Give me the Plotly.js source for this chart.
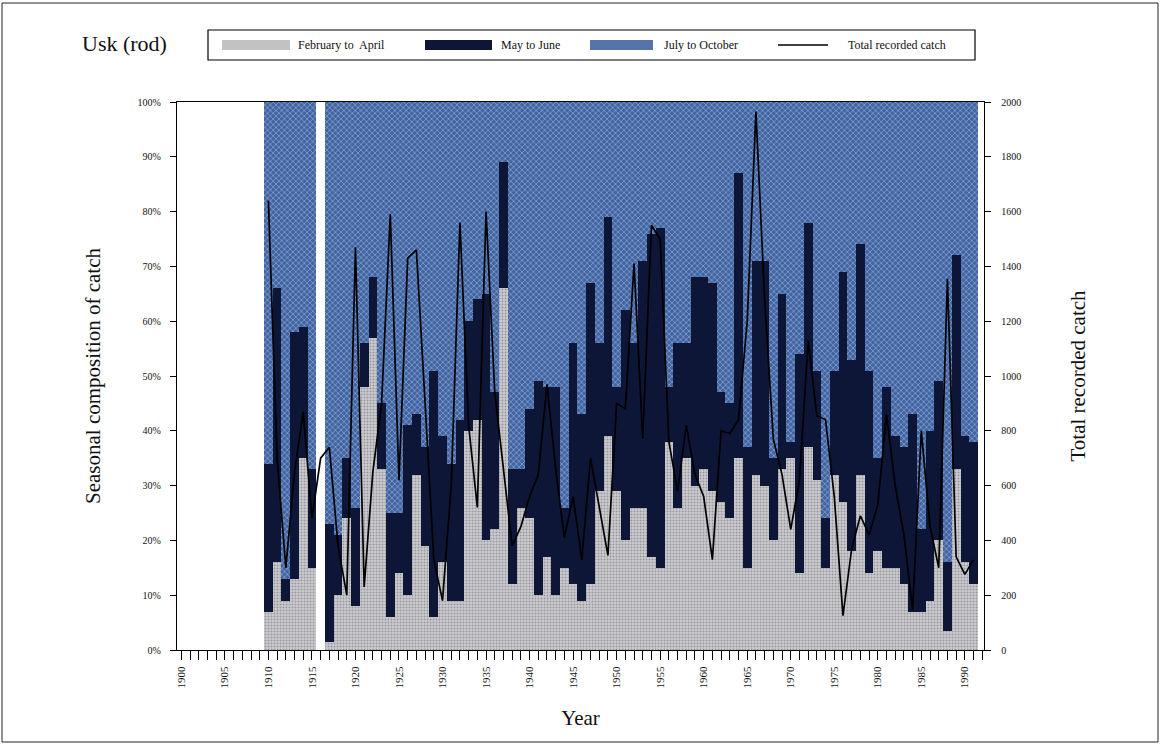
<!DOCTYPE html>
<html>
<head>
<meta charset="utf-8">
<script src="https://cdn.plot.ly/plotly-3.0.1.min.js"></script>
<style>
  html, body { margin: 0; padding: 0; background: #ffffff; }
  #chart { width: 1161px; height: 745px; }
</style>
</head>
<body>
<div id="chart"></div>
<script>
// Years with data (1910-1991); 1916 has no seasonal breakdown
const years = [];
for (let y = 1910; y <= 1991; y++) years.push(y);

// Seasonal composition of catch (% of annual rod catch)
const febApr = [7,16,9,13,35,15,null,1.5,10,24,8,48,57,33,6,14,10,32,19,6,
  16,9,9,40,42,20,22,66,12,26,24,10,17,10,15,12,9,12,29,39,
  29,20,26,26,17,15,38,26,35,30,33,29,27,24,35,15,32,30,20,33,
  35,14,37,31,15,32,27,18,32,14,18,15,15,12,7,7,9,20,3.5,33,
  16,12];
const mayJun = [27,50,4,45,24,18,null,21.5,11,11,18,8,11,12,19,11,31,11,18,45,
  23,25,33,20,22,45,25,23,21,7,20,39,31,38,11,44,34,55,27,40,
  19,42,30,45,59,62,10,30,21,38,35,38,20,21,52,22,39,41,15,32,
  3,40,41,20,9,19,42,35,42,37,17,33,24,25,36,15,31,29,12.5,39,
  23,26];
const julOct = [66,34,87,42,41,67,null,77,79,65,74,44,32,55,75,75,59,57,63,49,
  61,66,58,40,36,35,53,11,67,67,56,51,52,52,74,44,57,33,44,21,
  52,38,44,29,24,23,52,44,44,32,32,33,53,55,13,63,29,29,65,35,
  62,46,22,49,76,49,31,47,26,49,65,52,61,63,57,78,60,51,84,28,
  61,62];

// Total recorded rod catch (right axis)
const totalCatch = [1640,700,300,650,870,480,700,740,380,200,1470,230,650,900,1590,620,1430,1460,900,330,
  180,600,1560,820,520,1600,940,650,380,450,560,640,970,660,410,560,330,700,520,345,
  900,880,1410,770,1550,1500,760,580,820,640,560,330,800,790,840,1200,1965,1280,770,640,
  440,620,1130,855,840,560,125,370,490,420,530,860,600,420,145,800,450,300,1355,340,
  276,330];

const seriesNames = ['February to  April', 'May to June', 'July to October', 'Total recorded catch'];
const xTickVals = [1900,1905,1910,1915,1920,1925,1930,1935,1940,1945,1950,1955,1960,1965,1970,1975,1980,1985,1990];

const SERIF = '"Liberation Serif", "Times New Roman", serif';
const grayBg = '#cdcdd0', grayFg = '#97979c';
const navy = '#0d1636';
const blueBg = '#4164a0', blueFg = '#a3bce6';

const traces = [
  { type: 'bar', name: seriesNames[0], x: years, y: febApr, width: 1,
    marker: { color: grayBg, line: { width: 0 },
      pattern: { shape: '.', bgcolor: grayBg, fgcolor: grayFg, size: 3, solidity: 0.35 } },
    showlegend: false, hoverinfo: 'x+y' },
  { type: 'bar', name: seriesNames[1], x: years, y: mayJun, width: 1,
    marker: { color: navy, line: { width: 0 } },
    showlegend: false, hoverinfo: 'x+y' },
  { type: 'bar', name: seriesNames[2], x: years, y: julOct, width: 1,
    marker: { color: blueBg, line: { width: 0 },
      pattern: { shape: 'x', bgcolor: blueBg, fgcolor: blueFg, size: 4, solidity: 0.25 } },
    showlegend: false, hoverinfo: 'x+y' },
  { type: 'scatter', mode: 'lines', name: seriesNames[3], x: years, y: totalCatch,
    yaxis: 'y2', line: { color: '#000000', width: 1.7 }, connectgaps: true,
    showlegend: false }
];

// Paper coordinates helpers (plot area: x 177..984, y 102..650 px)
const PL = 177, PR = 984, PT = 102, PB = 650;
const px = v => (v - PL) / (PR - PL);
const py = v => (PB - v) / (PB - PT);

const shapes = [
  // outer frame
  { type: 'rect', xref: 'paper', yref: 'paper', x0: px(2), x1: px(1158), y0: py(742), y1: py(3),
    line: { color: '#222', width: 1 }, fillcolor: 'rgba(0,0,0,0)', layer: 'below' },
  // legend box
  { type: 'rect', xref: 'paper', yref: 'paper', x0: px(208), x1: px(975), y0: py(60), y1: py(30),
    line: { color: '#000', width: 1.2 }, fillcolor: '#ffffff' },
  // legend swatches
  { type: 'rect', xref: 'paper', yref: 'paper', x0: px(222), x1: px(290), y0: py(50), y1: py(40),
    line: { width: 0 }, fillcolor: '#c2c2c5' },
  { type: 'rect', xref: 'paper', yref: 'paper', x0: px(425), x1: px(492), y0: py(50), y1: py(40),
    line: { width: 0 }, fillcolor: navy },
  { type: 'rect', xref: 'paper', yref: 'paper', x0: px(590), x1: px(653), y0: py(50), y1: py(40),
    line: { width: 0 }, fillcolor: '#5474aa' },
  { type: 'line', xref: 'paper', yref: 'paper', x0: px(778), x1: px(828), y0: py(45), y1: py(45),
    line: { color: '#000', width: 1.5 } }
];

const legendFont = { family: SERIF, size: 12, color: '#111' };
const annotations = [
  { xref: 'paper', yref: 'paper', x: px(80), y: py(43), text: 'Usk (rod)', showarrow: false,
    xanchor: 'left', yanchor: 'middle', font: { family: SERIF, size: 22, color: '#111' } },
  { xref: 'paper', yref: 'paper', x: px(296), y: py(45), text: seriesNames[0], showarrow: false,
    xanchor: 'left', yanchor: 'middle', font: legendFont },
  { xref: 'paper', yref: 'paper', x: px(499), y: py(45), text: seriesNames[1], showarrow: false,
    xanchor: 'left', yanchor: 'middle', font: legendFont },
  { xref: 'paper', yref: 'paper', x: px(662), y: py(45), text: seriesNames[2], showarrow: false,
    xanchor: 'left', yanchor: 'middle', font: legendFont },
  { xref: 'paper', yref: 'paper', x: px(846), y: py(45), text: seriesNames[3], showarrow: false,
    xanchor: 'left', yanchor: 'middle', font: legendFont }
];

const layout = {
  width: 1161, height: 745,
  margin: { l: PL, r: 1161 - PR, t: PT, b: 745 - PB, pad: 0 },
  paper_bgcolor: '#ffffff', plot_bgcolor: '#ffffff',
  barmode: 'stack', bargap: 0,
  showlegend: false,
  font: { family: SERIF, color: '#111' },
  xaxis: {
    range: [1899.5, 1992.2], tickmode: 'array', tickvals: xTickVals,
    ticktext: xTickVals.map(String), tickangle: -90,
    ticks: 'outside', ticklen: 9, tickwidth: 1, tickcolor: '#000',
    minor: { dtick: 1, tick0: 1900, ticks: 'outside', ticklen: 9, tickwidth: 1, tickcolor: '#000', showgrid: false },
    showline: true, linecolor: '#000', linewidth: 1.2, mirror: true,
    showgrid: false, zeroline: false,
    ticklabelstandoff: 2,
    tickfont: { family: SERIF, size: 11, color: '#111' },
    title: { text: 'Year', font: { family: SERIF, size: 21, color: '#111' }, standoff: 22 }
  },
  yaxis: {
    range: [0, 100], dtick: 10, ticksuffix: '%',
    ticks: 'outside', ticklen: 6, tickcolor: '#000',
    showline: true, linecolor: '#000', linewidth: 1.2,
    showgrid: false, zeroline: false,
    ticklabelstandoff: 7,
    tickfont: { family: SERIF, size: 10, color: '#111' },
    title: { text: 'Seasonal composition of catch', font: { family: SERIF, size: 21, color: '#111' }, standoff: 31 }
  },
  yaxis2: {
    overlaying: 'y', side: 'right', range: [0, 2000], dtick: 200,
    ticks: 'outside', ticklen: 6, tickcolor: '#000',
    showline: true, linecolor: '#000', linewidth: 1.2,
    showgrid: false, zeroline: false,
    ticklabelstandoff: 8,
    tickfont: { family: SERIF, size: 10, color: '#111' },
    title: { text: 'Total recorded catch', font: { family: SERIF, size: 21, color: '#111' }, standoff: 50 }
  },
  shapes: shapes,
  annotations: annotations
};

Plotly.newPlot('chart', traces, layout, { displayModeBar: false, staticPlot: true });
</script>
</body>
</html>
